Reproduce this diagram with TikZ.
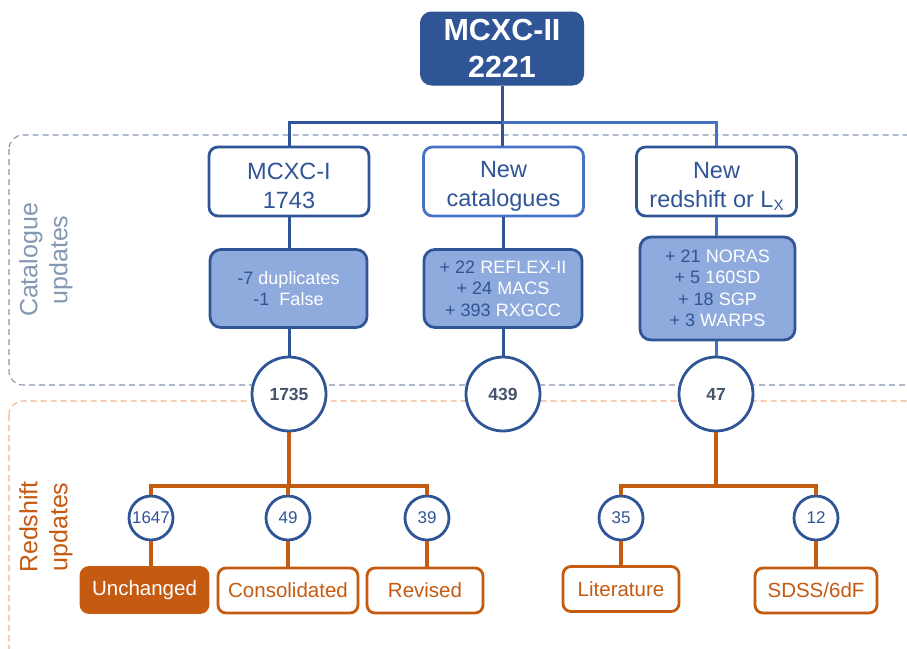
\documentclass[tikz,border=0pt]{standalone}
\usepackage{fontspec}
\setmainfont{Liberation Sans}
\definecolor{dblue}{HTML}{2F5597}
\definecolor{mblue}{HTML}{4472C4}
\definecolor{lblue}{HTML}{8FAADC}
\definecolor{gblue}{HTML}{8497B0}
\definecolor{orng}{HTML}{C55A11}
\definecolor{lorng}{HTML}{F4B183}
\definecolor{circtxt}{HTML}{44546A}
\tikzset{
  topbox/.style={draw=dblue, fill=dblue, line width=1pt, rounded corners=11pt, text=white, inner sep=0pt, align=center, minimum width=163pt, minimum height=73pt, font=\fontsize{30.5}{37}\selectfont\bfseries},
  rowbox/.style={draw=dblue, fill=white, line width=2.8pt, rounded corners=9pt, text=dblue, inner sep=0pt, align=center, minimum width=160pt, minimum height=69pt, font=\fontsize{23.5}{29}\selectfont},
  lbox/.style={draw=dblue, fill=lblue, line width=2.8pt, rounded corners=11pt, text=white, inner sep=0pt, align=center, font=\fontsize{18}{21.5}\selectfont},
  bigc/.style={circle, draw=dblue, fill=white, line width=2.8pt, minimum size=74pt, inner sep=0pt, text=circtxt, font=\fontsize{17.5}{18}\selectfont\bfseries},
  smallc/.style={circle, draw=dblue, fill=white, line width=2.8pt, minimum size=44pt, inner sep=0pt, text=dblue, font=\fontsize{17}{18}\selectfont},
  obox/.style={draw=orng, fill=white, line width=2.8pt, rounded corners=8pt, text=orng, inner sep=0pt, minimum height=45pt, font=\fontsize{20.5}{24}\selectfont},
  bline/.style={draw=dblue, line width=3pt},
  mline/.style={draw=mblue, line width=3pt},
  oline/.style={draw=orng, line width=3.2pt},
  sidelabel/.style={rotate=90, align=center, font=\fontsize{25}{30}\selectfont}
}
\begin{document}
\begin{tikzpicture}[x=1pt,y=-1pt]
\useasboundingbox (0,0) rectangle (907,648);
% dashed regions
\draw[gblue, line width=1.1pt, dash pattern=on 6pt off 4pt, rounded corners=14pt] (9,135) rectangle (930,385);
\draw[lorng, line width=1.1pt, dash pattern=on 6pt off 4pt, rounded corners=14pt] (9,401) rectangle (930,670);
\node[sidelabel, text=gblue] (catlab) at (46,260) {Catalogue\\updates};
\node[sidelabel, text=orng] (redlab) at (46,527) {Redshift\\updates};
% top
\node[topbox] (top) at (502,48.5) {MCXC-II\\2221};
\node[rowbox] (b1) at (289,181.5) {\rule{0pt}{26pt}MCXC-I\\1743};
\node[rowbox, draw=mblue] (b2) at (503.5,181.5) {\rule{0pt}{26pt}New\\catalogues};
\node[rowbox] (b3) at (716.5,181.5) {\rule{0pt}{26pt}New\\redshift or L\raisebox{-0.3ex}{\fontsize{15}{15}\selectfont X}};
\node[lbox, minimum width=157pt, minimum height=78pt] (l1) at (288.5,288.5) {\textcolor{dblue}{-7} duplicates\\\textcolor{dblue}{-1}\ \ False};
\node[lbox, minimum width=158pt, minimum height=78pt] (l2) at (503,288.5) {\textcolor{dblue}{+ 22} REFLEX-II\\\textcolor{dblue}{+ 24} MACS\\\textcolor{dblue}{+ 393} RXGCC};
\node[lbox, minimum width=155pt, minimum height=103pt] (l3) at (717.5,288.5) {\textcolor{dblue}{+ 21} NORAS\\\textcolor{dblue}{+ 5} 160SD\\\textcolor{dblue}{+ 18} SGP\\\textcolor{dblue}{+ 3} WARPS};
\coordinate (bus) at (502,122);
\draw[bline] (top.south) -- (bus);
\draw[bline] (b1.north) |- (bus);
\draw[bline] (bus) -- (b2.north -| bus);
\draw[mline] (bus) -| (b3.north);
\draw[bline] (b1.south) -- (b1.south |- l1.north);
\draw[bline] (b2.south) -- (b2.south |- l2.north);
\draw[mline] (b3.south) -- (b3.south |- l3.north);
% circles
\node[bigc] (c1) at (289,394) {1735};
\node[bigc] (c2) at (503,394) {439};
\node[bigc] (c3) at (716,394) {47};
\draw[bline] (l1.south -| c1) -- (c1.north);
\draw[bline] (l2.south -| c2) -- (c2.north);
\draw[mline] (l3.south -| c3) -- (c3.north);
% redshift
\node[smallc] (s1) at (151,518) {1647};
\node[smallc] (s2) at (288,518) {49};
\node[smallc] (s3) at (427,518) {39};
\node[smallc] (s4) at (621,518) {35};
\node[smallc] (s5) at (816,518) {12};
\coordinate (ob1) at (289,486);
\coordinate (ob2) at (716,486);
\draw[oline] (c1.south) -- (ob1);
\draw[oline] (s1.north) |- (ob1) -| (s3.north);
\draw[oline] (ob1 -| s2) -- (s2.north);
\draw[oline] (c3.south) -- (ob2);
\draw[oline] (s4.north) |- (ob2) -| (s5.north);
\node[obox, fill=orng, text=white, minimum width=127pt] (u) at (144.5,590) {Unchanged};
\node[obox, minimum width=140pt] (co) at (288,590.5) {Consolidated};
\node[obox, minimum width=116pt] (re) at (425,590.5) {Revised};
\node[obox, minimum width=116pt] (li) at (621,589) {Literature};
\node[obox, minimum width=122pt] (sd) at (816,590.5) {SDSS/6dF};
\draw[oline] (s1.south) -- (s1.south |- u.north);
\draw[oline] (s2.south) -- (s2.south |- co.north);
\draw[oline] (s3.south) -- (s3.south |- re.north);
\draw[oline] (s4.south) -- (s4.south |- li.north);
\draw[oline] (s5.south) -- (s5.south |- sd.north);
\end{tikzpicture}
\end{document}
